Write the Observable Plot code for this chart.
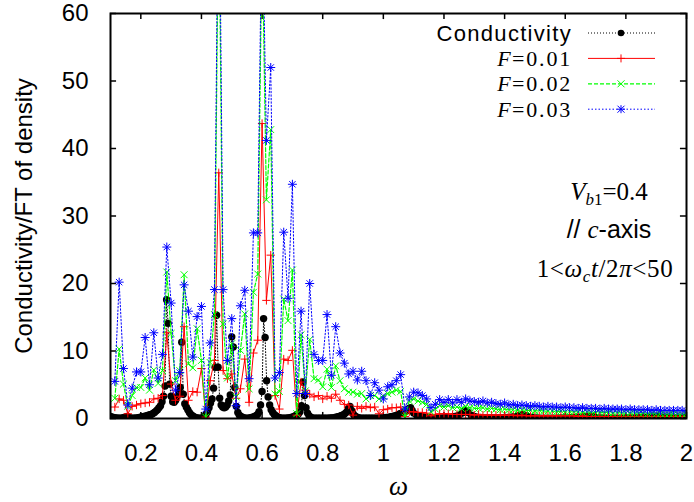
<!DOCTYPE html>
<html><head><meta charset="utf-8">
<script src="https://cdn.jsdelivr.net/npm/d3@7"></script>
<script src="https://cdn.jsdelivr.net/npm/@observablehq/plot@0.6"></script>
<style>
body{margin:0;background:#fff;}
#wrap{position:relative;width:694px;height:502px;overflow:hidden;background:#fff;}
#over{position:absolute;left:0;top:0;pointer-events:none;}
</style></head><body><div id="wrap"></div>
<script>
// ---- tick labels ----
const xTicks = [0.2, 0.4, 0.6, 0.8, 1, 1.2, 1.4, 1.6, 1.8, 2];
const yTicks = [0, 10, 20, 30, 40, 50, 60];

// ---- sampling grids (omega) ----
// F series are sampled at omega = k/70, k = 8..140
const fOmega = d3.range(8, 141).map(k => k / 70);
// conductivity: 0.100..1.100 step 0.005, then 1.11..2.00 step 0.01
const condOmega = d3.range(0, 201).map(i => 0.1 + i * 0.005).concat(d3.range(111, 201).map(i => i / 100));

// ---- series values ----
const conductivity = [
  0.3,0.2,0.15,0.1,0.1,0.05,0.05,0.05,0.1,0.15,0.2,0.3,0.2,0.1,0.05,0.05,0.05,0.1,0.1,0.15,
  0.2,0.25,0.3,0.35,0.4,0.5,0.55,0.6,0.75,0.9,1.1,1.3,1.6,1.9,2.5,3.3,4.8,17.6,14.1,5.1,
  3.3,2.5,2.4,2.7,3.3,3.9,4.6,11.3,3.6,2.2,1.7,1.3,0.9,0.6,0.4,0.25,0.15,0.1,0.05,0.05,
  0.05,0.1,0.3,0.6,1.0,1.6,2.3,2.9,4.5,7.6,15.3,7.6,3.0,2.0,1.7,1.6,1.7,2.0,2.6,3.5,
  12.1,10.6,4.6,1.8,0.9,0.5,0.3,0.2,0.1,0.05,0.05,0.05,0.1,0.15,0.2,0.3,0.4,0.6,1.0,2.0,
  4.0,14.8,12.0,5.6,3.2,2.0,1.3,0.9,0.6,0.4,0.25,0.15,0.1,0.05,0.05,0.05,0.05,0.1,0.1,0.15,
  0.2,0.3,0.4,0.5,0.7,1.0,1.9,5.4,3.4,1.6,0.8,0.4,0.2,0.1,0.05,0.05,0.05,0.05,0.05,0.05,
  0.05,0.05,0.05,0.05,0.05,0.1,0.1,0.1,0.15,0.2,0.25,0.3,0.4,0.5,0.6,0.8,1.0,1.5,1.8,1.2,
  0.7,0.4,0.25,0.15,0.1,0.05,0.05,0.05,0.05,0.05,0.05,0.05,0.05,0.05,0.05,0.05,0.05,0.05,0.1,0.1,
  0.1,0.1,0.15,0.15,0.2,0.25,0.3,0.35,0.4,0.5,0.6,0.7,0.8,0.9,1.0,1.1,1.3,1.5,1.6,1.2,
  0.8,
  0.5,0.35,0.25,0.2,0.15,0.12,0.1,0.1,0.1,0.12,
  0.15,0.2,0.25,0.35,0.5,0.8,1.2,0.9,0.5,0.3,
  0.2,0.15,0.1,0.08,0.08,0.08,0.08,0.1,0.1,0.12,
  0.15,0.2,0.25,0.35,0.5,0.6,0.4,0.25,0.15,0.1,
  0.08,0.06,0.06,0.06,0.06,0.06,0.06,0.08,0.08,0.1,
  0.1,0.12,0.15,0.18,0.2,0.25,0.3,0.35,0.25,0.15,
  0.1,0.08,0.06,0.06,0.05,0.05,0.05,0.06,0.06,0.08,
  0.08,0.1,0.1,0.12,0.15,0.18,0.2,0.25,0.3,0.35,
  0.3,0.2,0.15,0.12,0.1,0.1,0.1,0.1,0.12,0.15
];
const f001 = [
  1.7,2.9,2.7,0.7,1.8,2.0,2.2,2.3,2.4,2.9,
  3.0,3.4,12.7,5.1,2.7,3.3,13.6,2.7,4.0,3.9,
  7.4,0.2,5.6,8.6,36.4,7.1,5.9,6.6,3.0,4.4,
  8.8,2.4,9.7,11.6,43.7,17.5,24.2,3.4,1.4,8.8,
  8.6,10.1,0.5,5.4,4.2,3.6,3.2,3.4,2.9,3.3,
  3.0,3.6,2.7,2.1,2.0,0.5,1.8,1.5,1.8,1.6,
  1.7,0.7,1.3,1.4,1.6,1.6,1.7,0.3,1.0,1.0,
  0.9,0.9,0.8,0.4,0.6,0.7,0.7,0.7,0.6,0.6,
  0.6,0.6,0.6,0.5,0.6,0.5,0.5,0.5,0.5,0.5,
  0.5,0.5,0.5,0.4,0.5,0.4,0.4,0.4,0.4,0.4,
  0.4,0.4,0.4,0.4,0.4,0.4,0.4,0.3,0.4,0.3,
  0.3,0.3,0.3,0.3,0.3,0.3,0.3,0.3,0.3,0.3,
  0.3,0.3,0.3,0.3,0.3,0.3,0.3,0.3,0.3,0.3,
  0.3,0.3,0.3
];
const f002 = [
  3.0,10.3,5.1,1.8,3.4,4.6,4.6,6.0,4.2,7.2,
  5.2,7.1,21.7,12.6,5.6,7.1,21.3,8.1,7.5,13.3,
  8.6,0.2,8.3,15.4,80,14.0,6.0,11.1,3.2,10.1,
  15.5,4.4,18.7,21.4,72,32.4,42.8,3.6,4.0,17.7,
  14.5,22.0,0.7,12.4,4.1,11.7,5.9,5.7,4.7,7.3,
  4.6,7.8,5.6,4.4,3.9,3.9,3.6,3.7,2.9,3.4,
  3.4,2.9,3.3,3.7,3.9,4.2,4.0,0.2,2.6,2.9,
  2.6,2.4,2.1,1.0,1.4,1.9,1.7,1.9,1.6,1.7,
  1.5,1.8,
  1.6,1.5,1.5,1.6,1.4,1.5,1.4,1.3,1.4,1.3,
  1.3,1.2,1.3,1.2,1.2,1.1,1.2,1.1,1.1,1.1,
  1.0,1.1,1.0,1.0,1.0,1.0,0.9,1.0,0.9,0.9,
  0.9,0.9,0.9,0.8,0.9,0.8,0.8,0.8,0.8,0.8,
  0.8,0.7,0.8,0.7,0.7,0.7,0.7,0.7,0.7,0.7,
  0.7
];
const f003 = [
  5.5,20.2,7.4,2.0,4.5,6.9,6.9,12.0,5.0,12.7,
  6.0,9.5,25.4,17.1,4.2,6.8,19.8,15.9,9.1,15.1,
  16.6,1.4,11.2,19.1,90,19.1,8.6,14.8,1.9,16.7,
  19.0,5.9,27.5,27.5,78,41.2,52.0,6.0,6.8,27.6,
  17.8,34.7,3.7,15.9,3.7,20.0,9.5,8.6,8.6,15.4,
  6.4,13.6,9.7,8.2,6.6,7.0,5.7,7.0,5.6,3.4,
  5.3,4.2,2.9,4.7,5.0,5.6,6.5,1.4,3.2,3.9,
  3.8,3.4,2.9,1.6,2.1,2.8,2.4,2.8,2.3,2.8,
  2.4,2.9,
  2.6,2.5,2.4,2.6,2.3,2.4,2.2,2.1,2.3,2.0,
  2.1,1.9,2.0,1.9,1.8,1.9,1.8,1.7,1.8,1.7,
  1.7,1.6,1.7,1.6,1.6,1.5,1.6,1.5,1.5,1.5,
  1.4,1.5,1.4,1.4,1.4,1.4,1.3,1.4,1.3,1.3,
  1.3,1.3,1.2,1.3,1.2,1.2,1.2,1.2,1.2,1.2,
  1.1
];

// legend labels
const legendLabels = ["Conductivity", "0.01", "0.02", "0.03"];

const rows = (ws, vs) => vs.map((v, i) => ({w: ws[i], v}));
const condRows = rows(condOmega, conductivity);
const r1 = rows(fOmega, f001);
const r2 = rows(fOmega, f002);
const r3 = rows(fOmega, f003);

const serif = "'Liberation Serif','DejaVu Serif',serif";
const sans = "'Liberation Sans',Arial,sans-serif";
const RED = "#ff0000", GREEN = "#00ff00", BLUE = "#0000ff";

const plot = Plot.plot({
  width: 694, height: 502,
  marginLeft: 110, marginRight: 8, marginTop: 13, marginBottom: 84,
  style: {fontFamily: sans, fontSize: "24px", background: "white", color: "black"},
  x: {domain: [0.1, 2]},
  y: {domain: [0, 60]},
  marks: [
    Plot.axisX({ticks: xTicks, tickFormat: d => String(d), tickSize: 0, tickPadding: 25, label: null}),
    Plot.axisY({ticks: yTicks, tickSize: 0, tickPadding: 22, label: null}),
    Plot.ruleX(xTicks, {x: d => d, y1: 0, y2: 0.9, stroke: "black", strokeWidth: 1.5}),
    Plot.ruleX(xTicks, {x: d => d, y1: 60, y2: 59.1, stroke: "black", strokeWidth: 1.5}),
    Plot.ruleY(yTicks, {y: d => d, x1: 0.1, x2: 0.12, stroke: "black", strokeWidth: 1.5}),
    Plot.ruleY(yTicks, {y: d => d, x1: 2, x2: 1.98, stroke: "black", strokeWidth: 1.5}),
    Plot.line(condRows, {x: "w", y: "v", stroke: "black", strokeWidth: 1, strokeDasharray: "1,2", clip: true}),
    Plot.dot(condRows, {x: "w", y: "v", r: 3.7, fill: "black", stroke: "none", clip: true}),
    Plot.line(r1, {x: "w", y: "v", stroke: RED, strokeWidth: 1, clip: true}),
    Plot.dot(r1, {x: "w", y: "v", symbol: "plus", r: 2.8, stroke: RED, strokeWidth: 1, fill: "none", clip: true}),
    Plot.line(r2, {x: "w", y: "v", stroke: GREEN, strokeWidth: 1.2, strokeDasharray: "4,2", clip: true}),
    Plot.dot(r2, {x: "w", y: "v", symbol: "times", r: 3.2, stroke: GREEN, strokeWidth: 1, fill: "none", clip: true}),
    Plot.line(r3, {x: "w", y: "v", stroke: BLUE, strokeWidth: 1, strokeDasharray: "1.5,2", clip: true}),
    Plot.dot(r3, {x: "w", y: "v", symbol: "plus", r: 3.0, stroke: BLUE, strokeWidth: 1, fill: "none", clip: true}),
    Plot.dot(r3, {x: "w", y: "v", symbol: "times", r: 3.0, stroke: BLUE, strokeWidth: 1, fill: "none", clip: true}),
    Plot.frame({stroke: "black", strokeWidth: 2}),
    Plot.text(["Conductivity/FT of density"], {frameAnchor: "left", textAnchor: "middle", rotate: -90, dx: -86, fontSize: 24, fontFamily: sans}),
    Plot.text(["ω"], {frameAnchor: "bottom", dy: 76, fontSize: 27, fontFamily: serif, fontStyle: "italic"})
  ]
});
const wrap = document.getElementById("wrap");
wrap.appendChild(plot);

// ---- legend and annotations (overlay) ----
const NS = "http://www.w3.org/2000/svg";
const over = document.createElementNS(NS, "svg");
over.setAttribute("id", "over");
over.setAttribute("width", 694);
over.setAttribute("height", 502);
wrap.appendChild(over);
function addText(attrs, content) {
  const t = document.createElementNS(NS, "text");
  for (const k in attrs) t.setAttribute(k, attrs[k]);
  t.innerHTML = content;
  over.appendChild(t);
  return t;
}
function addRaw(markup) {
  const g = document.createElementNS(NS, "g");
  g.innerHTML = markup;
  over.appendChild(g);
}
const kinds = [
  {kind: "cond", color: "black", dash: "1,2"},
  {kind: "plus", color: RED, dash: null},
  {kind: "times", color: GREEN, dash: "4,2"},
  {kind: "star", color: BLUE, dash: "1.5,2"}
];
kinds.forEach((d, i) => {
  const cy = 33 + i * 25.4;
  if (i === 0) {
    addText({x: 572, y: cy + 7.5, "text-anchor": "end", "font-family": sans, "font-size": 22, "letter-spacing": 1.3}, legendLabels[i]);
  } else {
    const rest = addText({x: 572, y: cy + 7.5, "text-anchor": "end", "font-family": serif, "font-size": 22, "letter-spacing": 1.8}, "=" + legendLabels[i]);
    const L = rest.getComputedTextLength();
    addText({x: 572 - L - 1.5, y: cy + 7.5, "text-anchor": "end", "font-family": serif, "font-size": 22, "font-style": "italic"}, "F");
  }
  let m = 621, s = "";
  s += `<line x1="588" x2="655" y1="${cy}" y2="${cy}" stroke="${d.color}" stroke-width="${d.kind === 'times' ? 1.2 : 1}" ${d.dash ? `stroke-dasharray="${d.dash}"` : ""}/>`;
  if (d.kind === "cond") s += `<circle cx="${m}" cy="${cy}" r="3.3" fill="black"/>`;
  if (d.kind === "plus" || d.kind === "star") s += `<path d="M${m-4},${cy}H${m+4}M${m},${cy-4}V${cy+4}" stroke="${d.color}" fill="none"/>`;
  if (d.kind === "times" || d.kind === "star") s += `<path d="M${m-3.5},${cy-3.5}L${m+3.5},${cy+3.5}M${m-3.5},${cy+3.5}L${m+3.5},${cy-3.5}" stroke="${d.color}" fill="none"/>`;
  addRaw(s);
});
addText({x: 609, y: 200, "text-anchor": "middle", "font-family": serif, "font-size": 25},
  `<tspan font-style="italic">V</tspan><tspan font-size="17" dy="5"><tspan font-style="italic">b</tspan>1</tspan><tspan dy="-5">=0.4</tspan>`);
addText({x: 609, y: 238, "text-anchor": "middle", "font-family": sans, "font-size": 25},
  `// <tspan font-family="${serif}" font-style="italic">c</tspan>-axis`);
addText({x: 605, y: 277, "text-anchor": "middle", "font-family": serif, "font-size": 25, "letter-spacing": 0.6},
  `1&lt;<tspan font-style="italic">ω</tspan><tspan font-size="17" font-style="italic" dy="5">c</tspan><tspan font-style="italic" dy="-5">t</tspan>/2<tspan font-style="italic">π</tspan>&lt;50`);
</script>
</body></html>
